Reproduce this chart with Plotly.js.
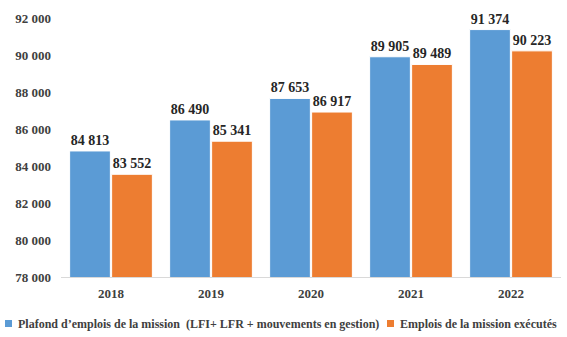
<!DOCTYPE html>
<html>
<head>
<meta charset="utf-8">
<script src="https://cdn.plot.ly/plotly-3.0.1.min.js"></script>
<style>html,body{margin:0;padding:0;background:#fff;}#chart{width:567px;height:337px;}</style>
</head>
<body>
<div id="chart"></div>
<script>
const years = ['2018', '2019', '2020', '2021', '2022'];
const plafond = [84813, 86490, 87653, 89905, 91374];
const executes = [83552, 85341, 86917, 89489, 90223];
const seriesNames = ['Plafond d’emplois de la mission \u00a0(LFI+ LFR + mouvements en gestion)', 'Emplois de la mission exécutés'];
const seriesColors = ['#5B9BD5', '#ED7D31'];
const yTicks = [78000, 80000, 82000, 84000, 86000, 88000, 90000, 92000];

const fmt = v => String(v).replace(/\B(?=(\d{3})+(?!\d))/g, ' ');
const fam = 'Liberation Serif, Times New Roman, serif';

const mk = (vals, name, color) => ({
  type: 'bar', x: years, y: vals, name: name,
  marker: {color: color, line: {color: '#ffffff', width: 1}},
  text: vals.map(fmt), textposition: 'outside', cliponaxis: false,
  textfont: {family: fam, size: 14, color: '#262626', weight: 'bold'},
  hoverinfo: 'none'
});

const data = [mk(plafond, seriesNames[0], seriesColors[0]), mk(executes, seriesNames[1], seriesColors[1])];

// legend drawn as squares + labels below the plot
const legFont = {family: fam, size: 12, color: '#404040', weight: 'bold'};
const legendItems = [
  {sq: [-0.112, -0.098], tx: -0.09},
  {sq: [0.652, 0.666], tx: 0.674}
];
const shapes = legendItems.map((it, i) => ({
  type: 'rect', xref: 'paper', yref: 'paper', x0: it.sq[0], x1: it.sq[1], y0: -0.193, y1: -0.166,
  fillcolor: seriesColors[i], line: {width: 0}
}));
const annotations = legendItems.map((it, i) => ({
  xref: 'paper', yref: 'paper', x: it.tx, y: -0.18, xanchor: 'left', yanchor: 'middle',
  text: seriesNames[i], showarrow: false, font: legFont
}));

const layout = {
  width: 567, height: 337,
  margin: {l: 61, r: 6, t: 18, b: 60},
  paper_bgcolor: '#fff', plot_bgcolor: '#fff',
  barmode: 'group', bargap: 0.16, bargroupgap: 0.03,
  showlegend: false,
  shapes: shapes, annotations: annotations,
  xaxis: {type: 'category', showline: true, linecolor: '#d9d9d9', linewidth: 1, ticks: '', showgrid: false,
    tickfont: {family: fam, size: 13, color: '#404040', weight: 'bold'}, ticklabelstandoff: 4},
  yaxis: {range: [78000, 92000], tickvals: yTicks, ticktext: yTicks.map(fmt), showgrid: false, zeroline: false, showline: false,
    ticks: '', tickfont: {family: fam, size: 13, color: '#404040', weight: 'bold'}, ticklabelstandoff: 9}
};

Plotly.newPlot('chart', data, layout, {staticPlot: true, displayModeBar: false});
</script>
</body>
</html>
